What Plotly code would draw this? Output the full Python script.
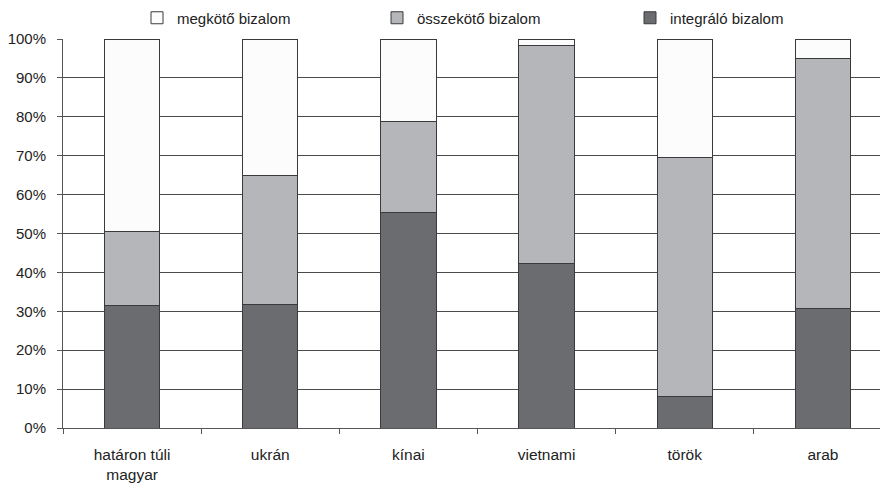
import plotly.graph_objects as go

categories = ["határon túli<br>magyar", "ukrán", "kínai", "vietnami", "török", "arab"]
integralo = [31.4, 31.7, 55.3, 42.4, 8.1, 30.6]
osszekoto = [19.1, 33.2, 23.4, 56.0, 61.5, 64.3]
megkoto = [49.5, 35.1, 21.3, 1.6, 30.4, 5.1]
y_ticks = [0, 10, 20, 30, 40, 50, 60, 70, 80, 90, 100]
y_ticktext = [f"{v}%" for v in y_ticks]

FONT = "Liberation Sans, Arial, sans-serif"
L, R, T, B, W, H = 55, 4, 31, 65, 888, 485

line = dict(color="#3a3a3a", width=1)

fig = go.Figure()
fig.add_trace(go.Bar(x=categories, y=integralo, name="integráló bizalom",
                     marker=dict(color="#6b6c70", line=line), width=0.4, legend="legend3"))
fig.add_trace(go.Bar(x=categories, y=osszekoto, name="összekötő bizalom",
                     marker=dict(color="#b5b6b9", line=line), width=0.4, legend="legend2"))
fig.add_trace(go.Bar(x=categories, y=megkoto, name="megkötő bizalom",
                     marker=dict(color="#fcfcfc", line=line), width=0.4, legend="legend"))

leg_common = dict(orientation="h", yanchor="middle", xanchor="left",
                  xref="container", yref="container", borderwidth=0,
                  bgcolor="rgba(0,0,0,0)", font=dict(family=FONT, size=15, color="#222"))
ly = 1 - 10 / H

fig.update_layout(
    width=W, height=H,
    template="plotly_white",
    showlegend=True,
    margin=dict(l=L, r=R, t=T, b=B, autoexpand=False),
    paper_bgcolor="white", plot_bgcolor="white",
    barmode="stack",
    font=dict(family=FONT, size=15, color="#222"),
    legend=dict(x=129 / W, y=ly, **leg_common),
    legend2=dict(x=369 / W, y=ly, **leg_common),
    legend3=dict(x=622 / W, y=ly, **leg_common),
    xaxis=dict(range=[-0.5, 5.5], showline=True, linecolor="#555", linewidth=1,
               ticks="outside", tickson="boundaries", ticklen=5, tickcolor="#555",
               ticklabelstandoff=12,
               showgrid=False, automargin=False, tickfont=dict(size=15.5, color="#222")),
    yaxis=dict(range=[0, 100], tickmode="array", tickvals=y_ticks, ticktext=y_ticktext,
               showline=True, automargin=False, ticklabelstandoff=8,
               linecolor="#555", linewidth=1, ticks="outside", ticklen=5, tickcolor="#555",
               showgrid=True, gridcolor="#4a4a4a", gridwidth=1, zeroline=False,
               tickfont=dict(size=15, color="#222")),
)

fig.write_html("out.html")
